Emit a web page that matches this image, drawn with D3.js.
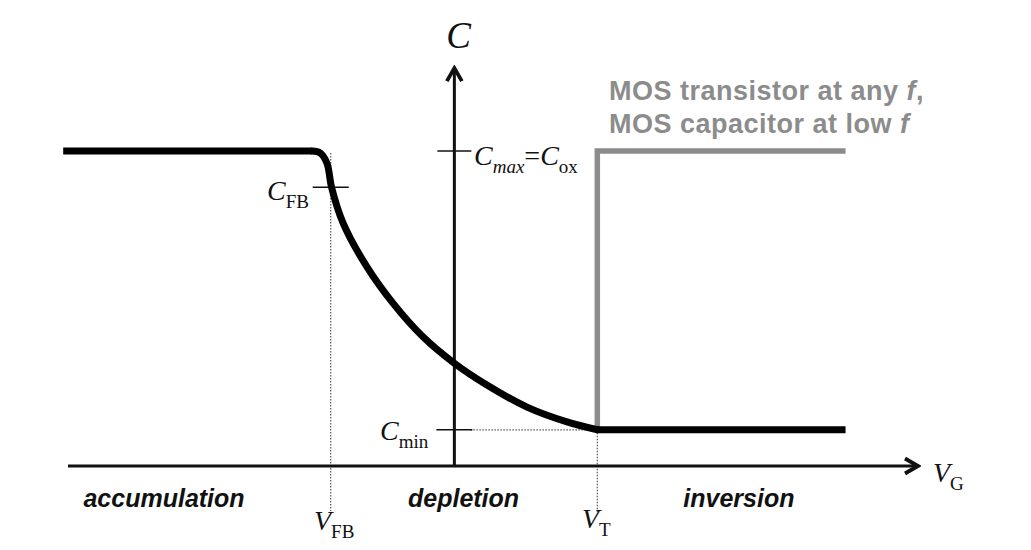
<!DOCTYPE html>
<html>
<head>
<meta charset="utf-8">
<script src="https://cdn.jsdelivr.net/npm/d3@7"></script>
<style>
  body { margin: 0; background: #fff; }
  .math { font-family: "Liberation Serif", "Times New Roman", serif; fill: #111; }
  .region { font-family: "Liberation Sans", Arial, sans-serif; font-weight: bold; font-style: italic; font-size: 25px; fill: #111; }
  .note { font-family: "Liberation Sans", Arial, sans-serif; font-weight: bold; font-size: 27px; letter-spacing: 0.5px; fill: #8c8c8c; }
</style>
</head>
<body>
<div id="chart"></div>
<script>
// gate voltage (arbitrary units, 0 at the C axis) and normalised capacitance C/Cox
var vStart = -4.05, vEnd = 4.05;
var vFB = -1.28, vT = 1.48;
var cMax = 1, cFB = 0.885, cMin = 0.115;

// black curve through the depletion region
var vDepletion = [-1.47, -1.39, -1.32, -1.27, -1.153, -0.905, -0.636, -0.325, -0.004, 0.337, 0.752, 1.166, 1.48];
var cDepletion = [1.0, 0.994, 0.962, 0.883, 0.772, 0.632, 0.517, 0.41, 0.327, 0.257, 0.187, 0.14, 0.115];

// region labels under the V axis
var regionNames = ["accumulation", "depletion", "inversion"];
var regionAt = [-3.84, -0.48, 2.37];

var w = 1031, h = 550;

var svg = d3.select("#chart")
    .append("svg")
    .attr("width", w)
    .attr("height", h);

var x = d3.scaleLinear().domain([-4, 4.8]).range([68, 918]);
var y = d3.scaleLinear().domain([0, 1]).range([466, 151]);

var line = d3.line()
    .x(function(d) { return x(d[0]); })
    .y(function(d) { return y(d[1]); });

var smooth = d3.line()
    .x(function(d) { return x(d[0]); })
    .y(function(d) { return y(d[1]); })
    .curve(d3.curveCatmullRom.alpha(0.5));

// arrow heads
var defs = svg.append("defs");
defs.append("marker")
    .attr("id", "arrow")
    .attr("viewBox", "0 0 20 20")
    .attr("refX", 17).attr("refY", 10)
    .attr("markerWidth", 20).attr("markerHeight", 20)
    .attr("markerUnits", "userSpaceOnUse")
    .attr("orient", "auto")
    .append("path")
    .attr("d", "M4,2.5 L17,10 L4,17.5")
    .attr("fill", "none")
    .attr("stroke", "#111")
    .attr("stroke-width", 3.8)
    .attr("stroke-linejoin", "miter");

// dotted guide lines
var guides = svg.append("g")
    .attr("stroke", "#555")
    .attr("stroke-width", 1.2)
    .attr("stroke-dasharray", "1.5,1.5");

guides.append("line")
    .attr("x1", x(vFB)).attr("x2", x(vFB))
    .attr("y1", y(cMax) + 2).attr("y2", 511);
guides.append("line")
    .attr("x1", x(vT)).attr("x2", x(vT))
    .attr("y1", y(cMin)).attr("y2", 512);
guides.append("line")
    .attr("x1", x(0) + 16).attr("x2", x(vT))
    .attr("y1", y(cMin)).attr("y2", y(cMin));

// axes
svg.append("line")
    .attr("x1", x(-4)).attr("x2", x(4.8))
    .attr("y1", y(0)).attr("y2", y(0))
    .attr("stroke", "#111").attr("stroke-width", 3)
    .attr("marker-end", "url(#arrow)");

svg.append("line")
    .attr("x1", x(0)).attr("x2", x(0))
    .attr("y1", y(0)).attr("y2", y(1.263))
    .attr("stroke", "#111").attr("stroke-width", 3)
    .attr("marker-end", "url(#arrow)");

// small tick marks
var ticks = [[0, cMax, 17], [vFB, cFB, 18], [0, cMin, 18]];
svg.append("g")
    .selectAll("line")
    .data(ticks)
    .enter()
    .append("line")
    .attr("x1", function(d) { return x(d[0]) - d[2]; })
    .attr("x2", function(d) { return x(d[0]) + d[2]; })
    .attr("y1", function(d) { return y(d[1]); })
    .attr("y2", function(d) { return y(d[1]); })
    .attr("stroke", "#111")
    .attr("stroke-width", 1.6);

// gray curve: MOS transistor / low f
var grayPts = [[vT, cMin], [vT, cMax], [vEnd, cMax]];
svg.append("path")
    .attr("d", line(grayPts))
    .attr("fill", "none")
    .attr("stroke", "#8c8c8c")
    .attr("stroke-width", 5.5)
    .attr("stroke-linejoin", "miter");

// black curve: MOS capacitor at high f
var depl = vDepletion.map(function(v, i) { return [v, cDepletion[i]]; });
var black = svg.append("g")
    .attr("fill", "none")
    .attr("stroke", "#000")
    .attr("stroke-width", 7);

black.append("path")
    .attr("d", line([[vStart, cMax], depl[0]]));
black.append("path")
    .attr("d", smooth(depl))
    .attr("stroke-linecap", "round");
black.append("path")
    .attr("d", line([depl[depl.length - 1], [vEnd, cMin]]));

// math labels
function mathLabel(px, py, main, sub, size) {
    var t = svg.append("text")
        .attr("class", "math")
        .attr("x", px).attr("y", py)
        .attr("font-size", size);
    t.append("tspan").attr("font-style", "italic").text(main);
    if (sub) {
        t.append("tspan")
            .attr("font-size", size * 0.68)
            .attr("dy", size * 0.28)
            .text(sub);
    }
    return t;
}

mathLabel(x(0) - 8, 48, "C", null, 37);
mathLabel(933, 482, "V", "G", 28);
mathLabel(267, 200, "C", "FB", 28);
mathLabel(380, 440, "C", "min", 28);
mathLabel(314, 530, "V", "FB", 28);
mathLabel(582, 528, "V", "T", 28);

var cm = svg.append("text")
    .attr("class", "math")
    .attr("x", 474).attr("y", 165)
    .attr("font-size", 28);
cm.append("tspan").attr("font-style", "italic").text("C");
cm.append("tspan").attr("font-style", "italic").attr("font-size", 19).attr("dy", 8).text("max");
cm.append("tspan").attr("dy", -8).text("=");
cm.append("tspan").attr("font-style", "italic").text("C");
cm.append("tspan").attr("font-size", 19).attr("dy", 8).text("ox");

// region names
svg.append("g")
    .selectAll("text")
    .data(regionNames)
    .enter()
    .append("text")
    .attr("class", "region")
    .attr("x", function(d, i) { return x(regionAt[i]); })
    .attr("y", 507)
    .text(function(d) { return d; });

// gray note
var n1 = svg.append("text").attr("class", "note").attr("x", 609).attr("y", 100);
n1.append("tspan").text("MOS transistor at any ");
n1.append("tspan").attr("font-style", "italic").text("f");
n1.append("tspan").text(",");
var n2 = svg.append("text").attr("class", "note").attr("x", 609).attr("y", 133);
n2.append("tspan").text("MOS capacitor at low ");
n2.append("tspan").attr("font-style", "italic").text("f");
</script>
</body>
</html>
